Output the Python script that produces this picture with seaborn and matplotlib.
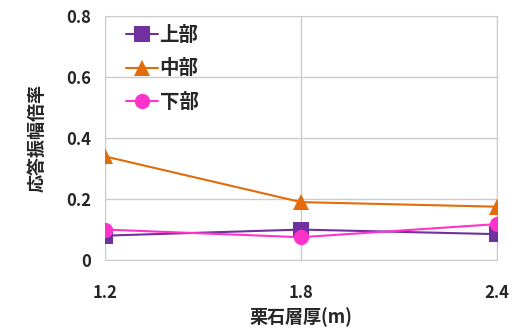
import pandas as pd
import seaborn as sns
import matplotlib.pyplot as plt

thickness = [1.2, 1.8, 2.4]
upper = [0.08, 0.10, 0.085]
middle = [0.34, 0.19, 0.175]
lower = [0.10, 0.075, 0.118]
series_names = ['上部', '中部', '下部']

df = pd.DataFrame({
    'x': thickness * 3,
    'y': upper + middle + lower,
    'pos': [n for n in series_names for _ in thickness],
})

sns.set_style('white')
plt.rcParams['font.family'] = ['Noto Sans CJK JP', 'DejaVu Sans']
plt.rcParams['font.weight'] = 'bold'

fig = plt.figure(figsize=(5.25, 3.36), dpi=100)
ax = fig.add_axes([0.2, 0.226, 0.747, 0.726])

palette = {'上部': '#7030A0', '中部': '#E36C09', '下部': '#FF33CC'}
markers = {'上部': 's', '中部': '^', '下部': 'o'}
sns.lineplot(data=df, x='x', y='y', hue='pos', style='pos', palette=palette,
             markers=markers, dashes=False, markersize=11, linewidth=1.5,
             markeredgewidth=0, ax=ax)

ax.set_xlim(1.2, 2.4)
ax.set_ylim(0, 0.8)
ax.set_xticks(thickness)
ax.set_xticklabels(['1.2', '1.8', '2.4'])
ax.set_yticks([0, 0.2, 0.4, 0.6, 0.8])
ax.set_yticklabels(['0', '0.2', '0.4', '0.6', '0.8'])
ax.grid(True, color='#cccccc', linewidth=1)
for s in ax.spines.values():
    s.set_color('#cccccc')
ax.tick_params(axis='both', labelsize=12, length=4, color='#bbbbbb', direction='out')
ax.tick_params(axis='x', pad=13)
ax.tick_params(axis='y', pad=6)
for lbl in ax.get_xticklabels() + ax.get_yticklabels():
    lbl.set_fontweight('bold')

ax.set_xlabel('栗石層厚(m)', fontsize=13, fontweight='bold', labelpad=4)
ax.set_ylabel('応答振幅倍率', fontsize=13, fontweight='bold', labelpad=14)

leg = ax.legend(loc='upper left', frameon=False, fontsize=14, handlelength=1.6,
                handletextpad=0.1, labelspacing=0.75, borderaxespad=0.1,
                bbox_to_anchor=(0.03, 1.0))
for t in leg.get_texts():
    t.set_fontweight('bold')
for s in ax.spines.values():
    s.set_zorder(0)

plt.savefig('out.png', dpi=100)
